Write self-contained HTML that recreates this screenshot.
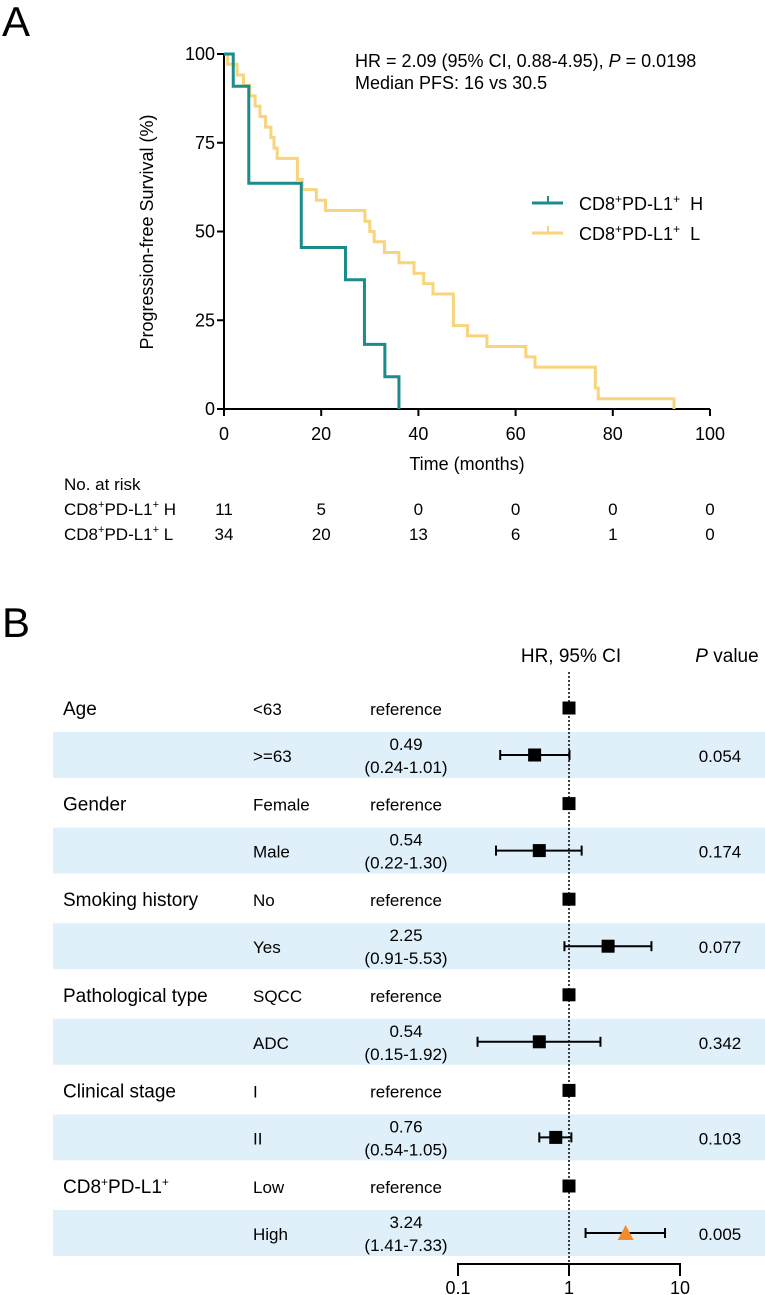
<!DOCTYPE html>
<html><head><meta charset="utf-8">
<style>
html,body{margin:0;padding:0;background:#fff;}
svg{display:block;font-family:"Liberation Sans",Arial,sans-serif;}
</style></head>
<body>
<svg id="fig" width="765" height="1295" viewBox="0 0 765 1295" xmlns="http://www.w3.org/2000/svg">
<text x="2" y="36" font-size="42">A</text>
<text x="2" y="637" font-size="42">B</text>
<g id="km"></g>
<g id="forest"></g>
</svg>
<script>
// ---- KM data ----
const xTicks = [0, 20, 40, 60, 80, 100];
const yTicks = [0, 25, 50, 75, 100];
const tealTimes = [0, 1.9, 5.1, 15.9, 25.0, 28.9, 33.1, 36];
const tealSurv  = [100, 90.9, 63.6, 45.5, 36.4, 18.2, 9.1, 0];
const yellowTimes = [0, 0.75, 2.7, 4.0, 5.3, 6.4, 7.4, 8.55, 9.65, 10.3, 10.95, 15.1, 16.1, 19.0, 20.9, 29.0, 30.0, 30.9, 33.0, 36.0, 39.1, 41.1, 43.0, 47.2, 50.1, 54.1, 62.1, 64.0, 76.4, 77.0, 92.6];
const yellowSurv  = [100, 97.1, 94.1, 91.2, 88.2, 85.3, 82.4, 79.4, 76.5, 73.5, 70.6, 64.7, 61.8, 58.8, 55.9, 52.9, 50.0, 47.1, 44.1, 41.2, 38.2, 35.3, 32.4, 23.5, 20.6, 17.6, 14.7, 11.8, 5.9, 2.9, 0];
const riskH = [11, 5, 0, 0, 0, 0];
const riskL = [34, 20, 13, 6, 1, 0];

// ---- Forest data ----
const categories = ["Age", "Gender", "Smoking history", "Pathological type", "Clinical stage", "CD8PDL1"];
const refLabels = ["<63", "Female", "No", "SQCC", "I", "Low"];
const cmpLabels = [">=63", "Male", "Yes", "ADC", "II", "High"];
const hrValues = [0.49, 0.54, 2.25, 0.54, 0.76, 3.24];
const ciLow = [0.24, 0.22, 0.91, 0.15, 0.54, 1.41];
const ciHigh = [1.01, 1.30, 5.53, 1.92, 1.05, 7.33];
const pValues = ["0.054", "0.174", "0.077", "0.342", "0.103", "0.005"];
const forestTicks = [0.1, 1, 10];

const NS = "http://www.w3.org/2000/svg";
function el(tag, attrs, parent, text) {
  const e = document.createElementNS(NS, tag);
  for (const k in attrs) e.setAttribute(k, attrs[k]);
  if (text !== undefined) e.textContent = text;
  parent.appendChild(e);
  return e;
}
const km = document.getElementById('km');
const X0 = 224, X1 = 710, Y0 = 409, Y1 = 54;
const xs = t => X0 + (t / 100) * (X1 - X0);
const ys = v => Y0 - (v / 100) * (Y0 - Y1);

let a = el('line', {x1: X0, y1: Y1, x2: X0, y2: Y0, stroke: '#000', 'stroke-width': 2}, km);


a = el('line', {x1: X0, y1: Y0, x2: X1, y2: Y0, stroke: '#000', 'stroke-width': 2}, km);


yTicks.forEach(v => {
  el('line', {x1: X0 - 7, y1: ys(v), x2: X0, y2: ys(v), stroke: '#000', 'stroke-width': 2}, km);
  const t = el('text', {x: X0 - 9, y: ys(v) + 6, 'font-size': 18, 'text-anchor': 'end'}, km, v);
  
  
});
xTicks.forEach(v => {
  el('line', {x1: xs(v), y1: Y0, x2: xs(v), y2: Y0 + 7, stroke: '#000', 'stroke-width': 2}, km);
  const t = el('text', {x: xs(v), y: 440, 'font-size': 18, 'text-anchor': 'middle'}, km, v);
  
  
});
let t = el('text', {x: 467, y: 470, 'font-size': 18, 'text-anchor': 'middle'}, km, 'Time (months)');


t = el('text', {x: 0, y: 0, 'font-size': 18, 'text-anchor': 'middle', transform: 'translate(153,232) rotate(-90)'}, km, 'Progression-free Survival (%)');



function stepPath(times, surv) {
  let d = 'M' + xs(times[0]) + ',' + ys(surv[0]);
  for (let i = 1; i < times.length; i++) {
    d += ' H' + xs(times[i]) + ' V' + ys(surv[i]);
  }
  return d;
}
let p = el('path', {d: stepPath(yellowTimes, yellowSurv), fill: 'none', stroke: '#f8d47c', 'stroke-width': 3}, km);


p = el('path', {d: stepPath(tealTimes, tealSurv), fill: 'none', stroke: '#1b8b8c', 'stroke-width': 3}, km);



t = el('text', {x: 355, y: 67, 'font-size': 18}, km);


t.innerHTML = 'HR = 2.09 (95% CI, 0.88-4.95), <tspan font-style="italic">P</tspan> = 0.0198';
t = el('text', {x: 355, y: 89, 'font-size': 18}, km, 'Median PFS: 16 vs 30.5');



[['#1b8b8c', 203, 'H', 'legend-entry-high'], ['#f8d47c', 233, 'L', 'legend-entry-low']].forEach(r => {
  const g = el('g', {}, km);
  
  
  el('line', {x1: 532, y1: r[1], x2: 563, y2: r[1], stroke: r[0], 'stroke-width': 3}, g);
  el('line', {x1: 548, y1: r[1] - 7, x2: 548, y2: r[1], stroke: r[0], 'stroke-width': 2}, g);
  const tx = el('text', {x: 579, y: r[1] + 7, 'font-size': 18}, g);
  tx.innerHTML = 'CD8<tspan dy="-7" font-size="12">+</tspan><tspan dy="7">PD-L1</tspan><tspan dy="-7" font-size="12">+</tspan><tspan dy="7">\u00a0\u00a0' + r[2] + '</tspan>';
});

t = el('text', {x: 64, y: 490, 'font-size': 17}, km, 'No. at risk');


[[riskH, 515, 'H'], [riskL, 540, 'L']].forEach(r => {
  const lab = el('text', {x: 64, y: r[1], 'font-size': 17}, km);
  
  
  lab.innerHTML = 'CD8<tspan dy="-7" font-size="11">+</tspan><tspan dy="7">PD-L1</tspan><tspan dy="-7" font-size="11">+</tspan><tspan dy="7">\u00a0' + r[2] + '</tspan>';
  r[0].forEach((v, i) => {
    const n = el('text', {x: xs(xTicks[i]), y: r[1], 'font-size': 17, 'text-anchor': 'middle'}, km, v);
    
    
  });
});

// ---- Forest plot ----
const fo = document.getElementById('forest');
const FX1 = 569, DEC = 111;
const fx = v => FX1 + DEC * Math.log10(v);
const bandTop0 = 732, pairH = 95.6, bandH = 46;
t = el('text', {x: 571, y: 662, 'font-size': 19, 'text-anchor': 'middle'}, fo, 'HR, 95% CI');


t = el('text', {x: 727, y: 662, 'font-size': 19, 'text-anchor': 'middle'}, fo);


t.innerHTML = '<tspan font-style="italic">P</tspan> value';

categories.forEach((c, i) => {
  const bt = bandTop0 + i * pairH;
  const by = bt + bandH / 2;
  const ry = bt - 24;
  const band = el('rect', {x: 53, y: bt, width: 712, height: bandH, fill: '#dff0fa'}, fo);
  
  
  const ct = el('text', {x: 63, y: ry + 7, 'font-size': 19}, fo);
  
  
  if (c === 'CD8PDL1') ct.innerHTML = 'CD8<tspan dy="-7" font-size="12">+</tspan><tspan dy="7">PD-L1</tspan><tspan dy="-7" font-size="12">+</tspan>';
  else ct.textContent = c;
  let s = el('text', {x: 253, y: ry + 7, 'font-size': 17}, fo, refLabels[i]);
  
  
  s = el('text', {x: 253, y: by + 7, 'font-size': 17}, fo, cmpLabels[i]);
  
  
  s = el('text', {x: 406, y: ry + 7, 'font-size': 17, 'text-anchor': 'middle'}, fo, 'reference');
  
  
  s = el('text', {x: 406, y: by - 5, 'font-size': 17, 'text-anchor': 'middle'}, fo, hrValues[i].toFixed(2));
  
  
  s = el('text', {x: 406, y: by + 18, 'font-size': 17, 'text-anchor': 'middle'}, fo, '(' + ciLow[i].toFixed(2) + '-' + ciHigh[i].toFixed(2) + ')');
  
  
  s = el('text', {x: 720, y: by + 7, 'font-size': 17, 'text-anchor': 'middle'}, fo, pValues[i]);
  
  
  const rm = el('rect', {x: fx(1) - 6.5, y: ry - 6.5, width: 13, height: 13, fill: '#000'}, fo);
  
  
  const g = el('g', {}, fo);
  
  
  el('line', {x1: fx(ciLow[i]), y1: by, x2: fx(ciHigh[i]), y2: by, stroke: '#000', 'stroke-width': 2}, g);
  el('line', {x1: fx(ciLow[i]), y1: by - 5, x2: fx(ciLow[i]), y2: by + 5, stroke: '#000', 'stroke-width': 2}, g);
  el('line', {x1: fx(ciHigh[i]), y1: by - 5, x2: fx(ciHigh[i]), y2: by + 5, stroke: '#000', 'stroke-width': 2}, g);
  let m;
  if (i === categories.length - 1) {
    const cx = fx(hrValues[i]);
    m = el('polygon', {points: (cx - 8) + ',' + (by + 7) + ' ' + (cx + 8) + ',' + (by + 7) + ' ' + cx + ',' + (by - 8), fill: '#f18b2b'}, fo);
  } else {
    m = el('rect', {x: fx(hrValues[i]) - 6.5, y: by - 6.5, width: 13, height: 13, fill: '#000'}, fo);
  }
  
  
});
let dl = el('line', {x1: fx(1), y1: 672, x2: fx(1), y2: 1263, stroke: '#000', 'stroke-width': 1.5, 'stroke-dasharray': '2,2'}, fo);


let ax = el('line', {x1: fx(0.1), y1: 1264, x2: fx(10), y2: 1264, stroke: '#000', 'stroke-width': 2}, fo);


forestTicks.forEach(v => {
  el('line', {x1: fx(v), y1: 1263, x2: fx(v), y2: 1276, stroke: '#000', 'stroke-width': 2}, fo);
  const tl = el('text', {x: fx(v), y: 1294, 'font-size': 18, 'text-anchor': 'middle'}, fo, v);
  
  
});
</script>
</body></html>
